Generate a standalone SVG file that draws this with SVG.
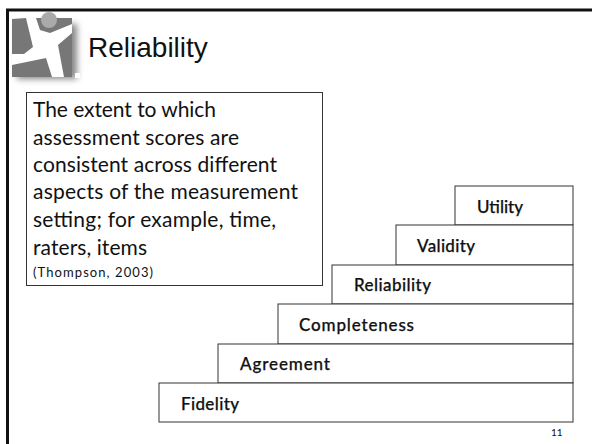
<svg xmlns="http://www.w3.org/2000/svg" width="592" height="444" viewBox="0 0 592 444">
<style>
.c{font-family:Lato,"Open Sans",sans-serif;fill:#111}
.s{fill:#fff;stroke:#333;stroke-width:1}
.l{font-size:17px;font-weight:500;stroke:#111;stroke-width:.25}
.b{font-size:21px}
</style>
<defs><filter id="sh" x="-30%" y="-30%" width="160%" height="160%"><feGaussianBlur stdDeviation="3"/></filter></defs>
<rect width="592" height="444" fill="#fff"/>
<g id="frame"><path d="M7.500 444V10H592" fill="none" stroke="#111" stroke-width="3"/></g>
<g id="logo">
<rect x="17" y="24" width="60" height="55" fill="#888" filter="url(#sh)"/>
<rect x="12" y="18" width="60" height="59" fill="#fff"/>
<path d="M12 19L26 18L33 47L24 54L12 54Z" fill="#777"/>
<path d="M36 18H72V24L50 33L40 30Z" fill="#777"/>
<path d="M12 65L46 58L52 77H12Z" fill="#777"/>
<path d="M72 33L58 45L64 77H72Z" fill="#777"/>
<circle cx="49" cy="20" r="8" fill="#aaa"/>
<rect x="75" y="73" width="5" height="5" fill="#fff"/>
</g>
<text x="88" y="57" font-family="Liberation Sans,sans-serif" font-size="28" fill="#111">Reliability</text>
<g id="definition">
<rect class="s" x="26.500" y="92.500" width="296" height="193"/>
<text class="c b" x="33" y="117" textLength="183">The extent to which</text>
<text class="c b" x="33" y="145" textLength="206">assessment scores are</text>
<text class="c b" x="33" y="172" textLength="244">consistent across different</text>
<text class="c b" x="33" y="199" textLength="265">aspects of the measurement</text>
<text class="c b" x="33" y="227" textLength="243">setting; for example, time,</text>
<text class="c b" x="33" y="255" textLength="114">raters, items</text>
<text class="c" font-size="13" x="33" y="277" textLength="120">(Thompson, 2003)</text>
</g>
<g id="utility"><rect class="s" x="455" y="186" width="118" height="39"/><text class="c l" x="477" y="213" textLength="46">Utility</text></g>
<g id="validity"><rect class="s" x="396" y="225" width="177" height="40"/><text class="c l" x="417" y="252" textLength="58">Validity</text></g>
<g id="reliability"><rect class="s" x="332" y="265" width="241" height="39"/><text class="c l" x="354" y="291" textLength="77">Reliability</text></g>
<g id="completeness"><rect class="s" x="278" y="304" width="295" height="40"/><text class="c l" x="299" y="331" textLength="115">Completeness</text></g>
<g id="agreement"><rect class="s" x="218" y="344" width="355" height="39"/><text class="c l" x="240" y="370" textLength="90">Agreement</text></g>
<g id="fidelity"><rect class="s" x="159" y="383" width="414" height="39"/><text class="c l" x="181" y="410" textLength="58">Fidelity</text></g>
<text class="c" font-size="10" x="551" y="436">11</text>
</svg>
